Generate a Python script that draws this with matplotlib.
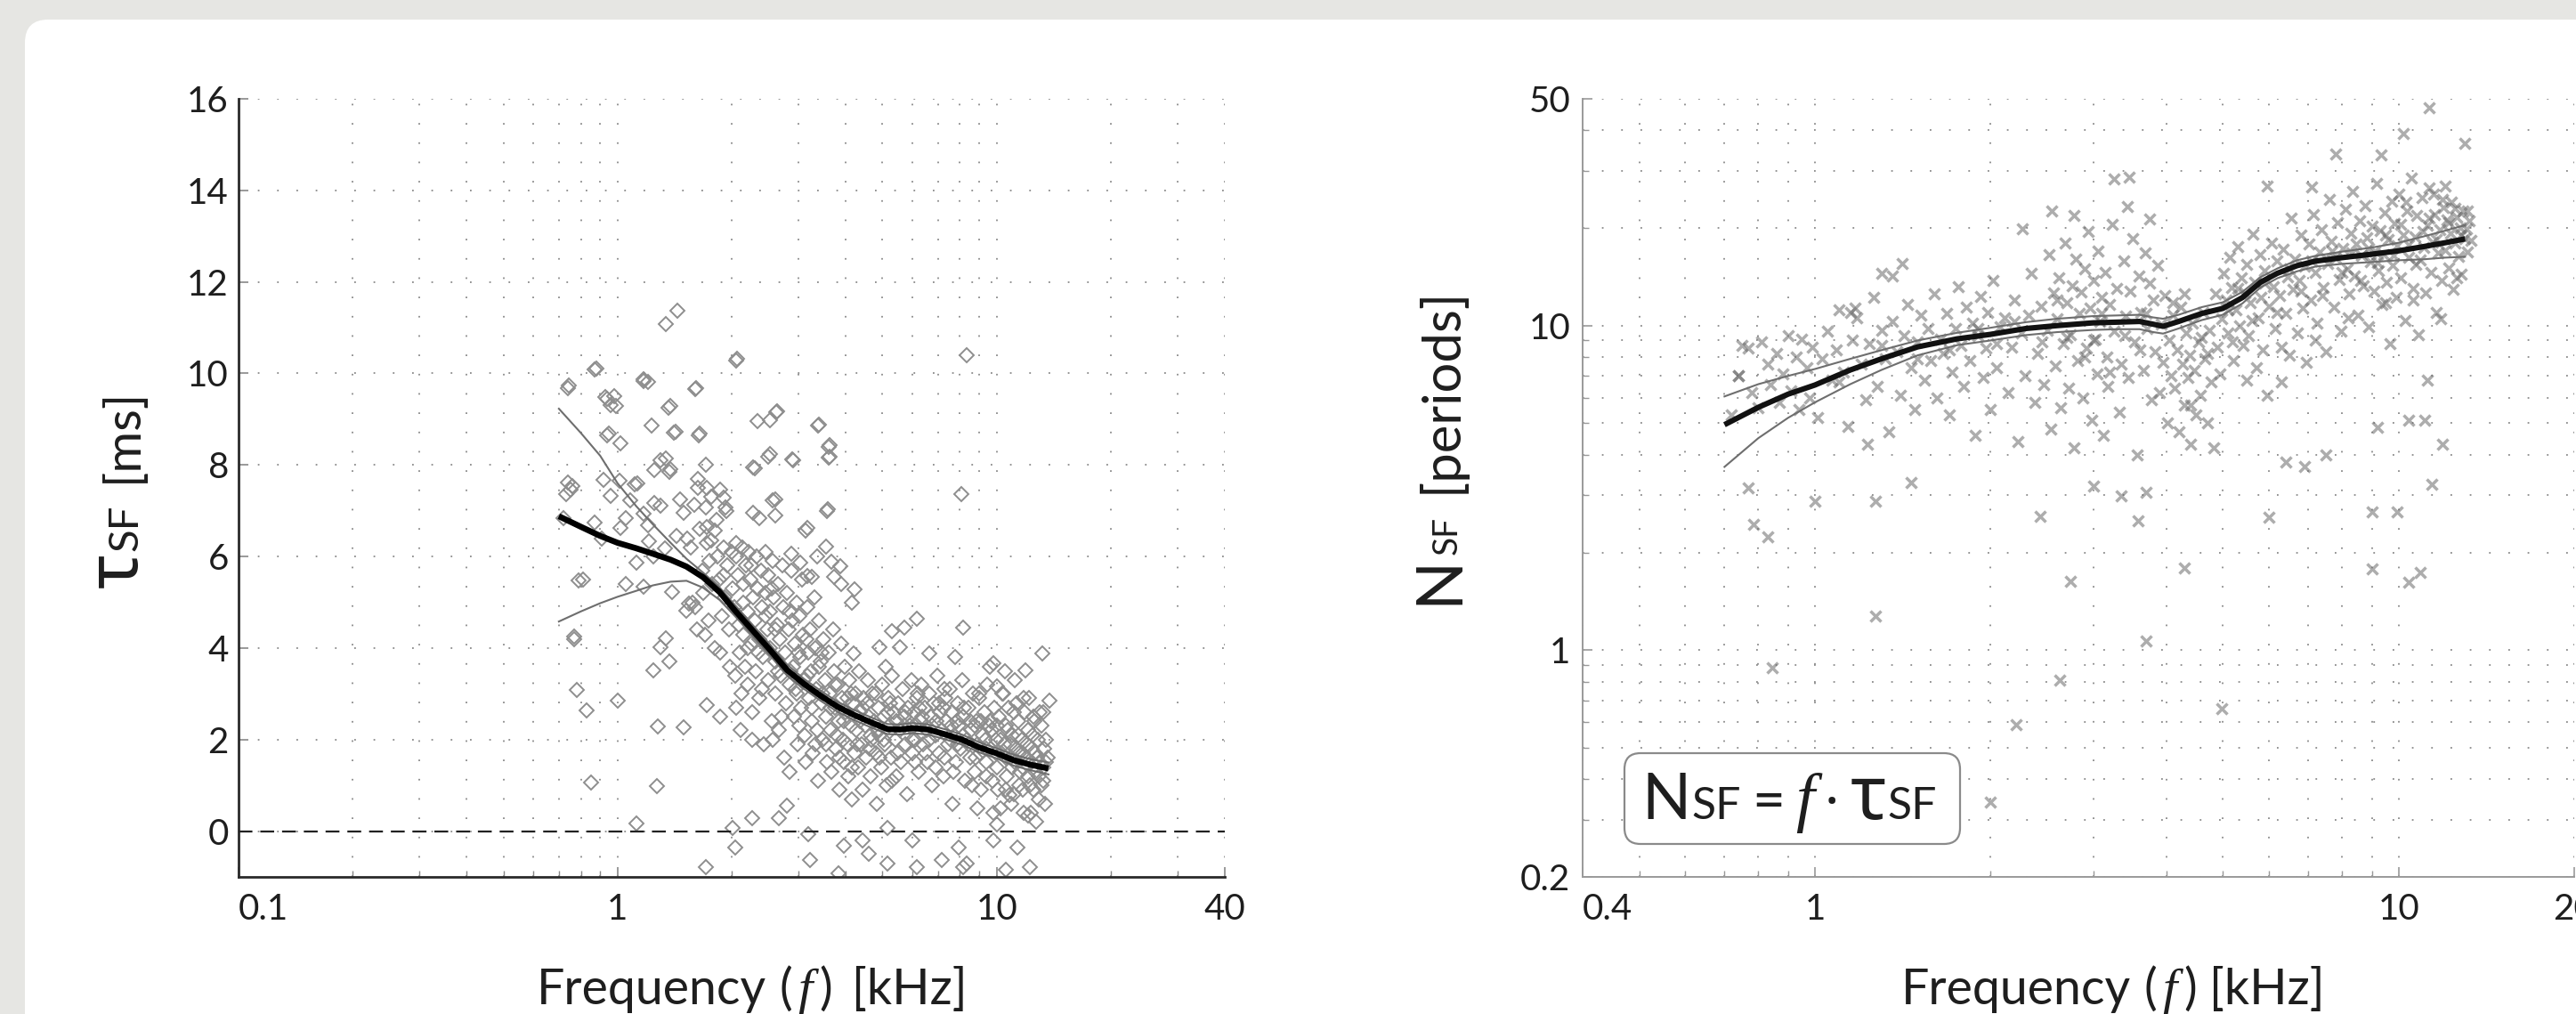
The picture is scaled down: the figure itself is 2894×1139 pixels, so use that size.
import matplotlib
matplotlib.use('Agg')
import matplotlib.pyplot as plt
from matplotlib.transforms import IdentityTransform
from matplotlib.patches import FancyBboxPatch
from matplotlib.font_manager import FontProperties

plt.rcParams['font.family'] = ['Lato', 'DejaVu Sans']

# ---------------- DATA: left panel (tau_SF vs frequency) ----------------
# scattered measurements (kHz, ms)
left_f = [
    1.44, 1.34, 2.07, 0.88, 0.745, 1.17, 1.20, 1.61, 0.94, 0.98, 0.99, 1.38, 2.63, 2.52, 3.39, 1.23, 1.42, 1.65,
    0.95, 1.02, 3.63, 3.63, 1.34, 1.38, 1.25, 1.71, 2.53, 2.89, 2.30, 0.73, 0.76, 0.92, 0.96, 1.01, 1.13, 1.08,
    1.25, 1.30, 1.46, 1.59, 1.71, 1.63, 1.72, 1.86, 1.91, 1.93, 2.60, 2.60, 2.28, 2.37, 3.58, 0.72, 0.87, 0.91,
    1.05, 1.02, 1.17, 1.20, 1.49, 1.43, 1.53, 1.72, 1.80, 1.77, 3.16, 3.13, 1.21, 1.33, 1.12, 1.24, 0.81, 1.05,
    1.17, 1.39, 1.54, 1.52, 3.54, 3.37, 3.67, 3.87, 3.72, 3.89, 4.22, 4.15, 2.87, 3.04, 3.16, 3.26, 0.77, 1.34,
    0.74, 0.87, 0.93, 0.96, 1.17, 1.36, 1.60, 2.06, 2.34, 2.62, 3.38, 3.61, 3.61, 8.35, 8.08, 0.94, 1.41, 1.64,
    2.28, 2.50, 2.90, 2.56, 3.56, 0.74, 0.75, 1.11, 1.30, 1.37, 0.79, 0.77, 0.78, 0.83, 1.00, 0.85, 1.27, 1.12,
    1.28, 1.49, 1.30, 1.37, 1.24, 1.72, 1.86, 2.01, 2.04, 1.71, 2.26, 2.80, 2.66, 3.18, 3.22, 3.83, 3.95, 4.43,
    4.61, 5.15, 5.15, 6.00, 6.15, 7.18, 7.96, 8.16, 8.35, 9.78, 10.0, 10.55, 11.35, 12.25, 10.78, 12.1, 13.8,
    13.2, 11.9, 9.78, 10.0, 8.16, 6.15, 5.28, 5.70, 5.57, 6.65, 7.76, 4.90, 4.20,
    1.56, 1.58, 1.60, 1.62, 1.63, 1.65, 1.67, 1.68, 1.70, 1.72, 1.74, 1.75, 1.77, 1.78, 1.80, 1.82, 1.83, 1.85,
    1.86, 1.88, 1.90, 1.92, 1.94, 1.95, 1.97, 1.98,
    2.00, 2.01, 2.03, 2.04, 2.05, 2.06, 2.08, 2.09, 2.10, 2.11, 2.13, 2.14, 2.15, 2.17, 2.18, 2.20, 2.21, 2.22,
    2.24, 2.25, 2.27, 2.28, 2.30, 2.31, 2.33, 2.34, 2.36, 2.37, 2.39, 2.40, 2.42, 2.43, 2.45, 2.46, 2.48, 2.49,
    2.50, 2.52, 2.53, 2.55, 2.56, 2.58, 2.60, 2.61, 2.63, 2.65, 2.66, 2.68, 2.70, 2.72, 2.73, 2.75, 2.77, 2.78,
    2.80, 2.82, 2.84, 2.85, 2.87, 2.89, 2.90, 2.92, 2.94, 2.96, 2.97, 2.99, 3.01, 3.03, 3.05, 3.07, 3.08, 3.10,
    3.12, 3.14, 3.16, 3.18, 3.20,
    3.22, 3.24, 3.26, 3.28, 3.30, 3.32, 3.34, 3.36, 3.38, 3.40, 3.43, 3.45, 3.47, 3.50, 3.52, 3.55, 3.57, 3.60,
    3.62, 3.65, 3.67, 3.70, 3.72, 3.75, 3.77, 3.80, 3.83, 3.85, 3.88, 3.90, 3.93, 3.95, 3.98, 4.00, 4.03, 4.06,
    4.09, 4.12, 4.15, 4.18,
    4.21, 4.24, 4.27, 4.30, 4.33, 4.36, 4.40, 4.43, 4.46, 4.50, 4.53, 4.57, 4.60, 4.64, 4.67, 4.71, 4.75, 4.79,
    4.83, 4.87, 4.91, 4.95, 5.00, 5.04, 5.08, 5.12, 5.17, 5.21, 5.26, 5.30, 5.35, 5.40, 5.45,
    5.50, 5.55, 5.60, 5.65, 5.70, 5.75, 5.80, 5.85, 5.90, 5.95, 6.00, 6.05, 6.10, 6.16, 6.22, 6.28, 6.34, 6.40,
    6.46, 6.52, 6.58, 6.64, 6.70, 6.77, 6.84, 6.90, 6.97, 7.04, 7.10, 7.17, 7.24, 7.31, 7.38, 7.45,
    7.52, 7.59, 7.66, 7.73, 7.80, 7.88, 7.95, 8.03, 8.10, 8.18, 8.26, 8.34, 8.42, 8.50, 8.58, 8.67, 8.75, 8.84,
    8.92, 9.01, 9.10, 9.19, 9.28, 9.37, 9.46, 9.55, 9.65, 9.74, 9.84, 9.94,
    10.04, 10.14, 10.24, 10.34, 10.44, 10.55, 10.65, 10.76, 10.86, 10.97, 11.08, 11.19, 11.30, 11.42, 11.53,
    11.65, 11.76, 11.88, 12.00, 12.12, 12.24, 12.36, 12.49, 12.61, 12.74, 12.86, 12.99, 13.12, 13.25, 13.38,
    13.52, 13.65, 13.40, 12.50, 11.50, 10.60, 9.80, 8.90, 13.00, 12.20, 11.30, 10.50, 9.60,
    4.55, 4.85, 5.15, 5.45, 5.75, 6.05, 6.35, 6.65, 6.95, 7.25, 7.55, 7.85, 8.15, 8.45, 8.75, 9.05, 9.35, 9.65,
    9.95, 10.25, 10.55, 10.85, 11.15, 11.45, 11.75, 12.05, 12.35, 12.65, 12.95, 13.25, 3.45, 3.15, 2.85, 2.55,
    2.25, 2.05, 3.75, 4.05, 4.35, 4.65, 2.35, 2.65, 2.95, 3.25, 3.55, 3.85, 4.15,
    2.12, 2.26, 2.41, 2.57, 2.71, 2.86, 3.02, 3.17, 3.33, 3.48, 3.64, 3.79, 3.96, 4.12, 4.28, 4.44, 4.62, 4.80,
    2.20, 2.60, 3.00, 3.40, 1.90, 2.15, 2.45,
    5.05, 5.25, 5.48, 5.72, 5.98, 6.25, 6.50, 6.75, 7.05, 7.30, 7.60, 7.90, 8.20, 8.50, 8.80, 9.10, 9.40, 9.70,
    10.0, 10.3, 10.7, 11.0, 11.4, 11.7, 12.1, 12.45, 12.8, 13.1, 13.5, 10.1, 10.9, 11.7, 12.3, 12.9, 9.4, 8.6,
    7.7, 6.9, 6.1, 5.3, 4.9, 10.4, 11.1, 9.0, 7.3, 6.2, 5.1, 12.6, 13.3, 11.8,
]
left_tau = [
    11.38, 11.07, 10.33, 10.1, 9.73, 9.88, 9.82, 9.67, 9.44, 9.5, 9.28, 9.28, 9.18, 8.97, 8.89, 8.87, 8.72, 8.68,
    8.68, 8.48, 8.44, 8.19, 8.15, 7.9, 7.88, 8.0, 8.23, 8.13, 7.92, 7.37, 7.53, 7.68, 7.33, 7.65, 7.59, 7.22,
    7.16, 7.12, 7.24, 7.14, 7.08, 7.7, 7.5, 7.47, 7.28, 7.08, 7.24, 6.89, 6.95, 6.83, 7.04, 6.83, 6.75, 6.40,
    6.83, 6.63, 6.93, 6.69, 6.95, 6.44, 6.40, 6.65, 6.56, 6.36, 6.63, 6.56, 6.34, 6.17, 5.86, 6.01, 5.49, 5.39,
    5.35, 5.23, 4.98, 4.81, 6.21, 6.01, 5.88, 5.78, 5.56, 5.39, 5.29, 5.0, 6.07, 5.86, 5.58, 5.56, 4.26, 4.22,
    9.68, 10.08, 9.49, 9.3, 9.83, 9.26, 9.66, 10.29, 8.95, 9.16, 8.87, 8.39, 8.16, 10.39, 7.37, 8.64, 8.7, 8.64,
    7.94, 8.18, 8.11, 7.22, 7.0, 7.61, 7.47, 7.57, 8.1, 7.85, 5.47, 4.19, 3.09, 2.64, 2.85, 1.06, 0.99, 0.17,
    2.28, 2.26, 4.02, 3.71, 3.52, 2.75, 2.5, 0.07, -0.35, -0.78, 0.28, 0.56, 0.28, -0.07, -0.63, -0.92, -0.32, -0.21,
    -0.49, -0.7, 0.07, -0.21, -0.78, -0.63, -0.35, -0.78, -0.7, -0.21, 0.14, -0.85, -0.35, -0.78, 0.78, 0.35, 2.85,
    3.88, 3.52, 3.66, 3.17, 4.44, 4.65, 4.37, 4.44, 4.02, 3.88, 3.81, 4.02, 3.88,
    6.2, 5.0, 4.9, 4.4, 7.5, 6.6, 5.7, 5.2, 4.3, 6.3, 4.6, 5.9, 7.3, 5.4, 4.0, 6.8, 6.0, 5.5,
    3.9, 4.7, 6.2, 5.1, 7.0, 5.8, 4.4, 3.6,
    6.1, 5.3, 4.9, 3.4, 2.7, 6.0, 5.6, 4.5, 3.9, 2.2, 6.2, 5.0, 4.3, 3.6, 5.8, 4.8, 3.2, 6.1,
    5.5, 4.1, 2.6, 5.1, 4.6, 3.5, 6.0, 5.3, 4.2, 2.9, 5.7, 4.9, 3.8, 1.9, 6.1, 5.2, 4.4, 3.3,
    5.6, 4.8, 4.0, 2.4, 5.9, 5.1, 3.7, 3.0, 4.5, 5.4, 2.2, 4.2, 3.4, 5.8, 4.9, 1.6, 3.9, 2.8,
    5.2, 4.4, 3.2, 1.3, 5.7, 4.6, 3.6, 2.5, 4.1, 5.0, 3.0, 1.9, 4.7, 3.8, 2.7, 5.5, 4.3, 3.3,
    2.1, 1.5, 4.9, 3.9, 2.9,
    4.4, 3.5, 2.4, 1.7, 5.1, 4.0, 3.1, 2.2, 1.1, 4.6, 3.7, 2.8, 2.0, 4.2, 3.3, 2.5, 1.5, 3.9,
    3.0, 2.2, 1.3, 4.4, 3.5, 2.7, 1.8, 3.2, 2.4, 0.9, 4.1, 2.9, 2.0, 1.5, 3.6, 2.6, 1.9, 1.2,
    3.3, 2.3, 0.7, 2.8,
    1.7, 3.0, 2.2, 1.4, 3.5, 2.6, 1.9, 0.9, 2.9, 2.3, 1.6, 3.3, 2.5, 1.2, 2.0, 3.0, 2.4, 1.7,
    0.6, 2.7, 2.1, 1.4, 3.2, 2.5, 1.9, 1.0, 2.9, 2.3, 1.6, 3.4, 2.6, 2.0, 1.2,
    2.8, 2.2, 1.5, 3.1, 2.5, 1.9, 0.8, 2.7, 2.3, 3.3, 1.7, 2.6, 2.0, 2.9, 1.3, 2.4, 3.2, 1.9,
    2.7, 2.2, 1.5, 3.0, 2.5, 1.0, 2.8, 2.1, 3.4, 1.7, 2.6, 2.2, 1.2, 2.9, 2.4, 1.9,
    3.1, 2.6, 0.6, 2.1, 1.5, 2.8, 2.3, 1.8, 3.3, 2.5, 1.1, 2.0, 2.7, 1.6, 2.2, 3.0, 1.3, 2.4,
    1.9, 2.9, 0.9, 2.1, 2.6, 1.5, 3.2, 2.3, 1.8, 1.1, 2.7, 2.0,
    1.4, 2.5, 0.5, 3.0, 1.9, 2.3, 1.2, 2.7, 1.6, 2.1, 0.8, 3.3, 1.8, 2.4, 1.3,
    2.0, 0.4, 2.6, 1.6, 2.2, 1.0, 1.8, 2.5, 1.3, 0.2, 2.0, 1.5, 2.3, 1.1, 1.8,
    2.0, 1.6, 0.6, 0.9, 1.0, 0.9, 0.4, 0.5, 2.6, 2.9, 2.8, 3.5, 3.6,
    2.8, 2.2, 2.6, 2.4, 2.6, 2.3, 2.5, 2.0, 2.4, 2.7, 2.0, 2.4, 2.1, 1.9, 2.3, 1.7, 2.0, 2.4,
    1.7, 2.0, 1.6, 1.9, 1.5, 1.7, 1.4, 1.9, 1.5, 1.7, 1.2, 1.4, 3.9, 4.2, 4.8, 5.3,
    5.8, 6.3, 3.2, 2.9, 2.4, 2.1, 3.9, 3.5, 3.1, 2.7, 1.9, 1.6, 1.4,
    3.0, 2.0, 3.1, 2.0, 2.5, 3.5, 2.3, 3.4, 1.9, 3.0, 2.7, 2.1, 2.4, 3.0, 1.9, 2.7, 1.8, 3.0,
    4.0, 4.4, 3.9, 3.6, 5.6, 5.4, 4.7,
    2.0, 2.8, 1.7, 2.3, 2.0, 2.7, 1.7, 2.3, 2.8, 1.6, 2.3, 1.9, 2.7, 2.4, 1.6, 2.4, 1.8, 2.2,
    2.3, 1.7, 2.2, 1.4, 2.1, 1.7, 1.2, 2.1, 1.6, 1.0, 1.5, 0.9, 0.6, 0.9, 0.4, 0.7, 1.2, 1.0,
    1.3, 1.4, 1.5, 1.1, 1.6, 3.0, 2.6, 3.0, 3.1, 3.0, 3.6, 2.4, 2.6, 2.9,
]
# moving average and confidence band
curve_f = [0.70, 0.80, 0.90, 1.00, 1.12, 1.24, 1.38, 1.52, 1.68, 1.86, 2.05, 2.28, 2.53, 2.80, 3.10, 3.43, 3.80,
           4.20, 4.65, 5.15, 5.55, 6.00, 6.60, 7.35, 8.10, 9.00, 10.0, 11.1, 12.3, 13.7]
tau_mean = [6.88, 6.65, 6.45, 6.30, 6.18, 6.06, 5.93, 5.78, 5.55, 5.22, 4.80, 4.37, 3.95, 3.52, 3.22, 2.96, 2.72,
            2.54, 2.38, 2.23, 2.22, 2.25, 2.22, 2.11, 2.00, 1.83, 1.70, 1.55, 1.45, 1.37]
tau_hi = [9.23, 8.70, 8.20, 7.60, 7.10, 6.70, 6.30, 5.95, 5.65, 5.32, 4.92, 4.49, 4.07, 3.64, 3.33, 3.07, 2.83,
          2.65, 2.49, 2.34, 2.33, 2.36, 2.33, 2.22, 2.11, 1.94, 1.81, 1.67, 1.57, 1.50]
tau_lo = [4.58, 4.80, 4.98, 5.12, 5.25, 5.37, 5.45, 5.47, 5.32, 5.05, 4.68, 4.25, 3.83, 3.40, 3.11, 2.85, 2.61,
          2.43, 2.27, 2.12, 2.11, 2.14, 2.11, 2.00, 1.89, 1.72, 1.59, 1.43, 1.33, 1.24]
left_xticks = [0.1, 1, 10, 40]
left_xticklabels = ['0.1', '1', '10', '40']
left_xminor = [0.2, 0.3, 0.4, 0.5, 0.6, 0.7, 0.8, 0.9, 2, 3, 4, 5, 6, 7, 8, 9, 20, 30]
left_yticks = [0, 2, 4, 6, 8, 10, 12, 14, 16]

# ---------------- DATA: right panel (N_SF vs frequency) ----------------
right_f = [
    0.846, 0.785, 0.829, 0.77, 0.74, 1.0, 1.27, 1.27, 1.46, 1.23, 2.0, 2.21, 2.63, 2.74, 2.43, 3.0, 3.35, 3.58,
    3.7, 3.7, 4.3, 4.97, 6.0, 6.4, 6.9, 7.5, 9.0, 9.95, 9.0, 10.4, 10.9, 11.4, 11.9, 11.1, 10.4, 9.2, 11.2,
    10.2, 11.3, 13.0, 9.35, 7.8, 7.1, 5.95, 3.25, 3.45, 3.43, 3.74, 2.55, 2.78, 2.27, 1.41, 1.30, 1.36, 1.17, 1.15,
    0.72, 0.74, 0.75, 0.77, 0.78, 0.80, 0.81, 0.83, 0.84, 0.86, 0.87, 0.88, 0.90, 0.91, 0.93, 0.94, 0.95, 0.97,
    0.98, 0.99,
    1.01, 1.03, 1.05, 1.07, 1.09, 1.10, 1.12, 1.14, 1.16, 1.18, 1.20, 1.22, 1.24, 1.26, 1.28, 1.30, 1.32, 1.34,
    1.36, 1.38, 1.40, 1.42, 1.44, 1.46, 1.48, 1.50, 1.52, 1.54, 1.56, 1.58,
    1.60, 1.62, 1.64, 1.66, 1.68, 1.70, 1.72, 1.74, 1.76, 1.78, 1.80, 1.82, 1.84, 1.86, 1.88, 1.90, 1.92, 1.94,
    1.96, 1.98, 2.00, 2.02, 2.05, 2.08, 2.11, 2.14, 2.17, 2.20, 2.23, 2.26, 2.29, 2.32, 2.35, 2.38, 2.41, 2.44,
    2.47,
    2.50, 2.52, 2.54, 2.56, 2.58, 2.60, 2.62, 2.64, 2.66, 2.68, 2.70, 2.72, 2.74, 2.76, 2.78, 2.80, 2.82, 2.84,
    2.86, 2.88, 2.90, 2.92, 2.94, 2.96, 2.98, 3.00, 3.02, 3.04, 3.06, 3.08, 3.10, 3.12, 3.14, 3.16, 3.18, 3.20,
    3.23, 3.26, 3.29, 3.32, 3.35, 3.38, 3.41, 3.44, 3.47, 3.50, 3.53, 3.56, 3.59, 3.62, 3.65, 3.68, 3.71, 3.74,
    3.77, 3.80, 3.83, 3.86, 3.89, 3.92, 3.95, 3.98,
    4.02, 4.05, 4.08, 4.11, 4.14, 4.17, 4.20, 4.23, 4.26, 4.29, 4.32, 4.35, 4.38, 4.41, 4.44, 4.47, 4.50, 4.54,
    4.58, 4.62, 4.66, 4.70, 4.74, 4.78, 4.82, 4.86, 4.90, 4.94, 4.98,
    5.02, 5.06, 5.10, 5.14, 5.18, 5.22, 5.26, 5.30, 5.34, 5.38, 5.42, 5.46, 5.50, 5.54, 5.58, 5.62, 5.66, 5.70,
    5.74, 5.78, 5.82, 5.86, 5.90, 5.95, 6.00, 6.05, 6.10, 6.15, 6.20, 6.25, 6.30, 6.35, 6.40, 6.45, 6.50, 6.55,
    6.60, 6.65, 6.70, 6.75, 6.80, 6.85, 6.90, 6.95,
    7.02, 7.08, 7.14, 7.20, 7.26, 7.32, 7.38, 7.44, 7.50, 7.56, 7.62, 7.68, 7.74, 7.80, 7.86, 7.92, 7.98, 8.04,
    8.10, 8.16, 8.22, 8.28, 8.34, 8.40, 8.46, 8.52, 8.58, 8.64, 8.70, 8.76, 8.82, 8.88, 8.94, 9.00, 9.06, 9.12,
    9.18, 9.24, 9.30, 9.36, 9.42, 9.48, 9.54, 9.60, 9.66, 9.72, 9.78, 9.84, 9.90, 9.96, 10.02, 10.10, 10.18,
    10.26, 10.34, 10.42, 10.50, 10.58, 10.66, 10.74, 10.82, 10.90, 10.98, 11.06, 11.14, 11.22, 11.30, 11.38,
    11.46, 11.54, 11.62, 11.70, 11.78, 11.86, 11.94, 12.02, 12.10, 12.18, 12.26, 12.34, 12.42, 12.50, 12.58,
    12.66, 12.74, 12.82, 12.90, 12.98, 13.06, 13.14, 13.22, 13.30,
    3.0, 3.1, 2.9, 3.2, 3.4, 3.6, 3.7, 2.7, 2.6, 2.45, 2.2, 2.05, 1.9, 1.7, 1.5, 1.3, 1.1,
    5.1, 5.3, 5.6, 5.9, 6.2, 6.5, 6.8, 7.1, 7.4, 7.7, 8.0, 8.3, 8.6, 8.9, 9.2, 9.5, 9.8, 10.1, 10.4, 10.7, 11.0,
    11.3, 11.6, 11.9, 12.2, 12.5, 12.8, 13.1, 10.3, 11.5, 12.0, 9.5, 10.6, 11.8, 12.6, 8.2, 7.2, 6.3, 5.5, 5.2,
    4.4, 4.7, 4.1, 4.3, 4.6,
]
right_N = [
    0.88, 2.44, 2.23, 3.17, 7.0, 2.87, 2.87, 1.27, 3.29, 4.3, 0.34, 0.59, 0.81, 1.63, 2.59, 3.2, 2.99, 2.5,
    3.07, 1.07, 1.79, 0.66, 2.56, 3.8, 3.67, 4.0, 2.67, 2.67, 1.78, 1.62, 1.73, 3.25, 4.3, 5.1, 5.1, 4.85, 6.8,
    39.0, 47.0, 36.5, 33.6, 33.8, 26.8, 27.0, 28.3, 28.6, 23.3, 21.3, 22.5, 21.8, 19.9, 15.5, 14.5, 14.2, 11.3, 11.0,
    5.3, 7.0, 8.7, 8.5, 6.2, 5.6, 8.9, 7.6, 6.6, 8.2, 5.8, 7.1, 9.3, 6.3, 8.0, 5.5, 9.1, 7.4,
    6.0, 8.6,
    5.2, 7.9, 9.6, 6.8, 8.4, 11.2, 7.2, 4.9, 9.0, 10.6, 7.6, 5.9, 8.8, 12.2, 6.5, 9.7, 7.9, 4.7,
    10.3, 8.3, 6.1, 9.3, 11.6, 7.4, 5.5, 8.9, 10.8, 6.8, 9.8, 7.8,
    12.5, 6.0, 9.1, 8.2, 10.9, 5.3, 7.2, 9.8, 13.2, 8.7, 6.5, 11.4, 7.8, 10.2, 4.6, 9.3, 12.3, 6.9,
    8.5, 11.0, 5.5, 13.8, 7.4, 9.9, 10.6, 6.2, 8.6, 12.0, 4.4, 9.5, 7.0, 10.8, 14.5, 5.8, 8.2, 11.5,
    6.6,
    9.7, 16.5, 4.8, 12.6, 7.5, 10.5, 14.0, 5.6, 8.8, 18.0, 11.8, 6.4, 9.4, 13.3, 4.2, 16.0, 7.8, 10.9,
    12.7, 6.0, 15.0, 8.5, 19.5, 11.3, 5.1, 13.8, 9.1, 7.1, 17.0, 10.3, 12.2, 4.6, 14.6, 8.0, 6.5, 11.6,
    20.5, 9.6, 13.0, 5.4, 7.6, 15.8, 10.7, 6.9, 12.8, 18.5, 8.9, 4.0, 14.2, 11.0, 7.3, 16.8, 9.8, 13.5,
    5.9, 12.0, 8.3, 15.3, 6.2, 10.1, 7.7, 12.4,
    5.0, 9.0, 7.0, 10.8, 6.4, 8.4, 4.7, 11.4, 7.6, 5.7, 9.5, 6.9, 8.1, 4.3, 10.2, 7.3, 5.3, 8.9,
    6.1, 11.0, 7.9, 5.0, 9.7, 6.7, 4.2, 12.5, 8.6, 7.1, 10.5,
    14.5, 12.0, 9.5, 16.2, 13.1, 7.8, 11.2, 17.5, 10.0, 14.0, 8.7, 12.6, 15.4, 9.3, 11.8, 19.2, 13.6, 7.4,
    10.6, 16.5, 12.2, 8.4, 14.8, 6.1, 11.5, 18.0, 13.2, 9.8, 15.8, 12.4, 6.7, 17.2, 10.9, 14.1, 8.1, 21.5,
    12.9, 16.0, 9.5, 13.8, 19.0, 11.3, 15.2, 7.7,
    17.8, 12.0, 22.0, 14.6, 10.2, 16.9, 19.8, 13.1, 8.3, 15.5, 24.5, 18.2, 11.4, 16.1, 20.8, 13.9, 9.6, 17.3,
    22.8, 15.0, 12.5, 19.3, 26.0, 14.2, 17.9, 10.8, 21.0, 16.4, 13.3, 23.5, 18.7, 9.9, 15.7, 20.2, 12.8, 17.0,
    27.5, 14.8, 19.6, 11.6, 16.6, 22.3, 13.6, 18.4, 8.8, 24.2, 15.3, 20.6, 12.2, 17.6, 25.5, 14.0, 19.0,
    10.4, 22.6, 16.2, 28.5, 13.0, 18.8, 21.8, 9.4, 15.9, 24.8, 17.4, 12.6, 20.4, 26.5, 14.6,
    18.1, 22.0, 11.0, 16.8, 19.7, 13.8, 23.2, 17.1, 21.2, 15.1, 19.3, 24.0, 12.9, 18.0, 21.6,
    16.3, 20.0, 14.4, 22.5, 18.6, 19.9, 16.9, 21.0, 18.3,
    9.0, 10.9, 8.0, 7.2, 9.3, 8.4, 10.9, 9.2, 12.0, 8.9, 10.3, 8.8, 9.8, 8.4, 7.9, 8.7, 6.7,
    11.2, 13.0, 10.4, 13.5, 11.0, 15.0, 12.8, 15.8, 12.4, 17.0, 14.6, 16.8, 13.8, 17.3, 15.6, 19.0, 16.4, 20.5,
    17.7, 15.4, 19.5, 21.5, 18.4, 24.5, 20.8, 23.0, 19.0, 22.5, 24.0, 25.5, 27.0, 11.8, 12.0, 10.5, 14.0, 10.6,
    9.0, 8.6, 6.8, 8.9, 5.7, 8.2, 11.8, 12.5, 9.2,
]
ncurve_f = [0.70, 0.80, 0.90, 1.0, 1.15, 1.3, 1.5, 1.75, 2.0, 2.3, 2.6, 3.0, 3.3, 3.6, 3.8, 3.95, 4.2, 4.6, 5.0,
            5.4, 5.8, 6.2, 6.7, 7.2, 8.0, 9.0, 10.0, 11.0, 12.0, 13.0]
N_mean = [4.95, 5.6, 6.15, 6.56, 7.3, 7.9, 8.6, 9.1, 9.4, 9.8, 10.0, 10.2, 10.25, 10.3, 10.1, 9.95, 10.3, 10.9,
          11.3, 12.2, 13.6, 14.5, 15.3, 15.8, 16.2, 16.6, 17.0, 17.5, 18.0, 18.5]
N_hi = [6.05, 6.6, 7.0, 7.35, 7.9, 8.4, 9.0, 9.5, 9.85, 10.25, 10.5, 10.7, 10.75, 10.8, 10.6, 10.5, 10.8, 11.4,
        11.8, 12.7, 14.1, 15.0, 15.9, 16.4, 16.9, 17.4, 18.0, 18.8, 19.6, 20.4]
N_lo = [3.67, 4.5, 5.2, 5.8, 6.6, 7.3, 8.1, 8.7, 9.0, 9.35, 9.55, 9.7, 9.75, 9.75, 9.55, 9.45, 9.8, 10.4,
        10.8, 11.7, 13.1, 14.0, 14.7, 15.2, 15.5, 15.7, 15.9, 16.0, 16.2, 16.3]
right_xticks = [0.4, 1, 10, 20]
right_xticklabels = ['0.4', '1', '10', '20']
right_xminor = [0.5, 0.6, 0.7, 0.8, 0.9, 2, 3, 4, 5, 6, 7, 8, 9]
right_yticks = [0.2, 1, 10, 50]
right_yticklabels = ['0.2', '1', '10', '50']
right_yminor = [0.3, 0.4, 0.5, 0.6, 0.7, 0.8, 0.9, 2, 3, 4, 5, 6, 7, 8, 9, 20, 30, 40]

# ---------------- FIGURE ----------------
W, H = 2894, 1139
fig = plt.figure(figsize=(W / 100, H / 100), dpi=100, facecolor='#e6e6e3')
PIX = IdentityTransform()

panel = FancyBboxPatch((28, -200), 3200, H - 22 + 200, boxstyle='round,pad=0,rounding_size=26',
                       transform=PIX, facecolor='white', edgecolor='none', zorder=-5)
fig.add_artist(panel)


def ax_rect(x0, x1, ytop, ybot):
    return [x0 / W, (H - ybot) / H, (x1 - x0) / W, (ybot - ytop) / H]


TXT = '#1e1e1e'
GRID = dict(color='#8a8a8a', linestyle=(0, (1, 11)), linewidth=1.3)

# ---- left axes ----
axL = fig.add_axes(ax_rect(268, 1376, 111, 985))
axL.set_xscale('log')
axL.set_xlim(0.1, 40)
axL.set_ylim(-1, 16)
axL.set_axisbelow(True)
axL.plot(left_f, left_tau, ls='none', marker='D', ms=8.6, mfc='none', mec='#8e8e8e', mew=1.4, zorder=2)
axL.axhline(0, color='#222222', lw=1.6, ls=(0, (7, 4)), zorder=3)
axL.plot(curve_f, tau_hi, color='#6e6e6e', lw=1.5, zorder=4)
axL.plot(curve_f, tau_lo, color='#6e6e6e', lw=1.5, zorder=4)
axL.plot(curve_f, tau_mean, color='black', lw=4.8, zorder=5, solid_capstyle='butt')
axL.set_xticks(left_xticks, left_xticklabels)
axL.set_xticks(left_xminor, minor=True)
axL.set_xticklabels([], minor=True)
axL.set_yticks(left_yticks)
axL.grid(True, which='both', axis='x', **GRID)
axL.grid(True, which='major', axis='y', **GRID)
for s in ['top', 'right']:
    axL.spines[s].set_visible(False)
for s in ['left', 'bottom']:
    axL.spines[s].set_color('#2a2a2a')
    axL.spines[s].set_linewidth(2.0)
axL.tick_params(which='major', direction='in', length=8, width=1.2, color='#888888',
                labelsize=29, labelcolor=TXT, pad=8)
axL.tick_params(which='minor', direction='in', length=5, width=1.0, color='#888888')
axL.tick_params(axis='x', which='major', pad=13)
axL.get_xticklabels()[0].set_ha('left')

# ---- right axes ----
axR = fig.add_axes(ax_rect(1778, 2892, 111, 985))
axR.set_xscale('log')
axR.set_yscale('log')
axR.set_xlim(0.4, 20)
axR.set_ylim(0.2, 50)
axR.set_axisbelow(True)
axR.plot(right_f, right_N, ls='none', marker='x', ms=9.0, mec='#6a6a6a', mew=2.5, alpha=0.55, zorder=2)
axR.plot(ncurve_f, N_hi, color='#6e6e6e', lw=1.5, zorder=4)
axR.plot(ncurve_f, N_lo, color='#6e6e6e', lw=1.5, zorder=4)
axR.plot(ncurve_f, N_mean, color='#111111', lw=4.4, zorder=5, solid_capstyle='butt')
axR.set_xticks(right_xticks, right_xticklabels)
axR.set_xticks(right_xminor, minor=True)
axR.set_xticklabels([], minor=True)
axR.set_yticks(right_yticks, right_yticklabels)
axR.set_yticks(right_yminor, minor=True)
axR.set_yticklabels([], minor=True)
axR.grid(True, which='both', **GRID)
for s in ['top', 'right']:
    axR.spines[s].set_visible(False)
for s in ['left', 'bottom']:
    axR.spines[s].set_color('#9a9a9a')
    axR.spines[s].set_linewidth(1.4)
axR.tick_params(which='major', direction='in', length=8, width=1.2, color='#999999',
                labelsize=29, labelcolor=TXT, pad=10)
axR.tick_params(which='minor', direction='in', length=5, width=1.0, color='#999999')
axR.tick_params(axis='x', which='major', pad=13)
axR.get_xticklabels()[0].set_ha('left')

# ---------------- TEXT ----------------
renderer = fig.canvas.get_renderer()


def fp(family, size, style='normal'):
    return FontProperties(family=family, size=size, style=style)


def seq(pieces, x, y, rotation=0, zorder=6):
    objs = []
    total = 0
    for s, prop, gap in pieces:
        t = fig.text(0, 0, s, fontproperties=prop, transform=PIX, ha='left', va='baseline',
                     rotation_mode='anchor', color=TXT, zorder=zorder)
        w = t.get_window_extent(renderer=renderer).width
        objs.append((t, w, gap))
        total += w + gap
    total -= objs[-1][2]
    cur = (x if rotation == 0 else y) - total / 2
    for t, w, gap in objs:
        if rotation == 0:
            t.set_position((cur, y))
        else:
            t.set_position((x, cur))
            t.set_rotation(90)
        cur += w + gap


SANS = ['Lato', 'DejaVu Sans']
GREEK = ['Noto Sans', 'DejaVu Sans']
SERIF = ['Liberation Serif', 'DejaVu Serif']

# y labels
seq([('τ', fp(GREEK, 58), 2), ('SF', fp(SANS, 34), 24), ('[ms]', fp(SANS, 41), 0)],
    154, H - 548, rotation=90)
seq([('N', fp(SANS, 52), 1), ('SF', fp(SANS, 28), 26), ('[periods]', fp(SANS, 43), 0)],
    1637, H - 501, rotation=90)

# x labels
seq([('Frequency', fp(SANS, 40), 14), ('(', fp(SANS, 40), 6), ('f', fp(SERIF, 42, 'italic'), 8),
     (')', fp(SANS, 40), 22), ('[kHz]', fp(SANS, 40), 0)], 845, H - 1128)
seq([('Frequency', fp(SANS, 40), 14), ('(', fp(SANS, 40), 6), ('f', fp(SERIF, 42, 'italic'), 8),
     (')', fp(SANS, 40), 14), ('[kHz]', fp(SANS, 40), 0)], 2374, H - 1128)

# formula box
box = FancyBboxPatch((1825, H - 948), 377, 102, boxstyle='round,pad=0,rounding_size=18', transform=PIX,
                     facecolor='white', edgecolor='#8a8a8a', linewidth=1.6, zorder=5)
fig.add_artist(box)
seq([('N', fp(SANS, 52), 1), ('SF', fp(SANS, 36), 12), ('=', fp(SANS, 46), 12),
     ('f', fp(SERIF, 54, 'italic'), 12), ('·', fp(GREEK, 44), 12), ('τ', fp(GREEK, 60), 1),
     ('SF', fp(SANS, 36), 0)], 2010, H - 920)

fig.savefig('out.png', dpi=100, facecolor=fig.get_facecolor())
